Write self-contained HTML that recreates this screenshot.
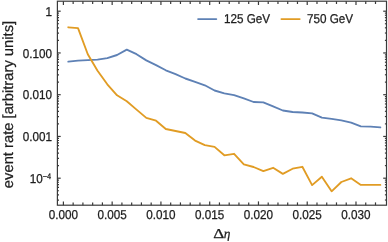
<!DOCTYPE html>
<html><head><meta charset="utf-8"><style>
html,body{margin:0;padding:0;background:#fff;}
svg{display:block;will-change:transform;}
text{font-family:"Liberation Sans",sans-serif;text-rendering:geometricPrecision;}
</style></head><body>
<svg width="388" height="242" viewBox="0 0 388 242">
<rect width="388" height="242" fill="#fff"/>
<g stroke="#3a3a3a" stroke-width="1.2" fill="none">
<rect x="57.4" y="1.2" width="329.10" height="204.00"/>
<line x1="63.40" y1="205.2" x2="63.40" y2="201.40"/>
<line x1="63.40" y1="1.2" x2="63.40" y2="5.00"/>
<line x1="73.15" y1="205.2" x2="73.15" y2="202.40"/>
<line x1="73.15" y1="1.2" x2="73.15" y2="4.00"/>
<line x1="82.91" y1="205.2" x2="82.91" y2="202.40"/>
<line x1="82.91" y1="1.2" x2="82.91" y2="4.00"/>
<line x1="92.66" y1="205.2" x2="92.66" y2="202.40"/>
<line x1="92.66" y1="1.2" x2="92.66" y2="4.00"/>
<line x1="102.41" y1="205.2" x2="102.41" y2="202.40"/>
<line x1="102.41" y1="1.2" x2="102.41" y2="4.00"/>
<line x1="112.16" y1="205.2" x2="112.16" y2="201.40"/>
<line x1="112.16" y1="1.2" x2="112.16" y2="5.00"/>
<line x1="121.92" y1="205.2" x2="121.92" y2="202.40"/>
<line x1="121.92" y1="1.2" x2="121.92" y2="4.00"/>
<line x1="131.67" y1="205.2" x2="131.67" y2="202.40"/>
<line x1="131.67" y1="1.2" x2="131.67" y2="4.00"/>
<line x1="141.42" y1="205.2" x2="141.42" y2="202.40"/>
<line x1="141.42" y1="1.2" x2="141.42" y2="4.00"/>
<line x1="151.18" y1="205.2" x2="151.18" y2="202.40"/>
<line x1="151.18" y1="1.2" x2="151.18" y2="4.00"/>
<line x1="160.93" y1="205.2" x2="160.93" y2="201.40"/>
<line x1="160.93" y1="1.2" x2="160.93" y2="5.00"/>
<line x1="170.68" y1="205.2" x2="170.68" y2="202.40"/>
<line x1="170.68" y1="1.2" x2="170.68" y2="4.00"/>
<line x1="180.44" y1="205.2" x2="180.44" y2="202.40"/>
<line x1="180.44" y1="1.2" x2="180.44" y2="4.00"/>
<line x1="190.19" y1="205.2" x2="190.19" y2="202.40"/>
<line x1="190.19" y1="1.2" x2="190.19" y2="4.00"/>
<line x1="199.94" y1="205.2" x2="199.94" y2="202.40"/>
<line x1="199.94" y1="1.2" x2="199.94" y2="4.00"/>
<line x1="209.70" y1="205.2" x2="209.70" y2="201.40"/>
<line x1="209.70" y1="1.2" x2="209.70" y2="5.00"/>
<line x1="219.45" y1="205.2" x2="219.45" y2="202.40"/>
<line x1="219.45" y1="1.2" x2="219.45" y2="4.00"/>
<line x1="229.20" y1="205.2" x2="229.20" y2="202.40"/>
<line x1="229.20" y1="1.2" x2="229.20" y2="4.00"/>
<line x1="238.95" y1="205.2" x2="238.95" y2="202.40"/>
<line x1="238.95" y1="1.2" x2="238.95" y2="4.00"/>
<line x1="248.71" y1="205.2" x2="248.71" y2="202.40"/>
<line x1="248.71" y1="1.2" x2="248.71" y2="4.00"/>
<line x1="258.46" y1="205.2" x2="258.46" y2="201.40"/>
<line x1="258.46" y1="1.2" x2="258.46" y2="5.00"/>
<line x1="268.21" y1="205.2" x2="268.21" y2="202.40"/>
<line x1="268.21" y1="1.2" x2="268.21" y2="4.00"/>
<line x1="277.97" y1="205.2" x2="277.97" y2="202.40"/>
<line x1="277.97" y1="1.2" x2="277.97" y2="4.00"/>
<line x1="287.72" y1="205.2" x2="287.72" y2="202.40"/>
<line x1="287.72" y1="1.2" x2="287.72" y2="4.00"/>
<line x1="297.47" y1="205.2" x2="297.47" y2="202.40"/>
<line x1="297.47" y1="1.2" x2="297.47" y2="4.00"/>
<line x1="307.22" y1="205.2" x2="307.22" y2="201.40"/>
<line x1="307.22" y1="1.2" x2="307.22" y2="5.00"/>
<line x1="316.98" y1="205.2" x2="316.98" y2="202.40"/>
<line x1="316.98" y1="1.2" x2="316.98" y2="4.00"/>
<line x1="326.73" y1="205.2" x2="326.73" y2="202.40"/>
<line x1="326.73" y1="1.2" x2="326.73" y2="4.00"/>
<line x1="336.48" y1="205.2" x2="336.48" y2="202.40"/>
<line x1="336.48" y1="1.2" x2="336.48" y2="4.00"/>
<line x1="346.24" y1="205.2" x2="346.24" y2="202.40"/>
<line x1="346.24" y1="1.2" x2="346.24" y2="4.00"/>
<line x1="355.99" y1="205.2" x2="355.99" y2="201.40"/>
<line x1="355.99" y1="1.2" x2="355.99" y2="5.00"/>
<line x1="365.74" y1="205.2" x2="365.74" y2="202.40"/>
<line x1="365.74" y1="1.2" x2="365.74" y2="4.00"/>
<line x1="375.50" y1="205.2" x2="375.50" y2="202.40"/>
<line x1="375.50" y1="1.2" x2="375.50" y2="4.00"/>
<line x1="57.4" y1="11.20" x2="60.70" y2="11.20"/>
<line x1="386.5" y1="11.20" x2="383.20" y2="11.20"/>
<line x1="57.4" y1="52.95" x2="60.70" y2="52.95"/>
<line x1="386.5" y1="52.95" x2="383.20" y2="52.95"/>
<line x1="57.4" y1="40.38" x2="59.00" y2="40.38"/>
<line x1="386.5" y1="40.38" x2="384.90" y2="40.38"/>
<line x1="57.4" y1="33.03" x2="59.00" y2="33.03"/>
<line x1="386.5" y1="33.03" x2="384.90" y2="33.03"/>
<line x1="57.4" y1="27.81" x2="59.00" y2="27.81"/>
<line x1="386.5" y1="27.81" x2="384.90" y2="27.81"/>
<line x1="57.4" y1="23.77" x2="59.00" y2="23.77"/>
<line x1="386.5" y1="23.77" x2="384.90" y2="23.77"/>
<line x1="57.4" y1="20.46" x2="59.00" y2="20.46"/>
<line x1="386.5" y1="20.46" x2="384.90" y2="20.46"/>
<line x1="57.4" y1="17.67" x2="59.00" y2="17.67"/>
<line x1="386.5" y1="17.67" x2="384.90" y2="17.67"/>
<line x1="57.4" y1="15.25" x2="59.00" y2="15.25"/>
<line x1="386.5" y1="15.25" x2="384.90" y2="15.25"/>
<line x1="57.4" y1="13.11" x2="59.00" y2="13.11"/>
<line x1="386.5" y1="13.11" x2="384.90" y2="13.11"/>
<line x1="57.4" y1="94.70" x2="60.70" y2="94.70"/>
<line x1="386.5" y1="94.70" x2="383.20" y2="94.70"/>
<line x1="57.4" y1="82.13" x2="59.00" y2="82.13"/>
<line x1="386.5" y1="82.13" x2="384.90" y2="82.13"/>
<line x1="57.4" y1="74.78" x2="59.00" y2="74.78"/>
<line x1="386.5" y1="74.78" x2="384.90" y2="74.78"/>
<line x1="57.4" y1="69.56" x2="59.00" y2="69.56"/>
<line x1="386.5" y1="69.56" x2="384.90" y2="69.56"/>
<line x1="57.4" y1="65.52" x2="59.00" y2="65.52"/>
<line x1="386.5" y1="65.52" x2="384.90" y2="65.52"/>
<line x1="57.4" y1="62.21" x2="59.00" y2="62.21"/>
<line x1="386.5" y1="62.21" x2="384.90" y2="62.21"/>
<line x1="57.4" y1="59.42" x2="59.00" y2="59.42"/>
<line x1="386.5" y1="59.42" x2="384.90" y2="59.42"/>
<line x1="57.4" y1="57.00" x2="59.00" y2="57.00"/>
<line x1="386.5" y1="57.00" x2="384.90" y2="57.00"/>
<line x1="57.4" y1="54.86" x2="59.00" y2="54.86"/>
<line x1="386.5" y1="54.86" x2="384.90" y2="54.86"/>
<line x1="57.4" y1="136.45" x2="60.70" y2="136.45"/>
<line x1="386.5" y1="136.45" x2="383.20" y2="136.45"/>
<line x1="57.4" y1="123.88" x2="59.00" y2="123.88"/>
<line x1="386.5" y1="123.88" x2="384.90" y2="123.88"/>
<line x1="57.4" y1="116.53" x2="59.00" y2="116.53"/>
<line x1="386.5" y1="116.53" x2="384.90" y2="116.53"/>
<line x1="57.4" y1="111.31" x2="59.00" y2="111.31"/>
<line x1="386.5" y1="111.31" x2="384.90" y2="111.31"/>
<line x1="57.4" y1="107.27" x2="59.00" y2="107.27"/>
<line x1="386.5" y1="107.27" x2="384.90" y2="107.27"/>
<line x1="57.4" y1="103.96" x2="59.00" y2="103.96"/>
<line x1="386.5" y1="103.96" x2="384.90" y2="103.96"/>
<line x1="57.4" y1="101.17" x2="59.00" y2="101.17"/>
<line x1="386.5" y1="101.17" x2="384.90" y2="101.17"/>
<line x1="57.4" y1="98.75" x2="59.00" y2="98.75"/>
<line x1="386.5" y1="98.75" x2="384.90" y2="98.75"/>
<line x1="57.4" y1="96.61" x2="59.00" y2="96.61"/>
<line x1="386.5" y1="96.61" x2="384.90" y2="96.61"/>
<line x1="57.4" y1="178.20" x2="60.70" y2="178.20"/>
<line x1="386.5" y1="178.20" x2="383.20" y2="178.20"/>
<line x1="57.4" y1="165.63" x2="59.00" y2="165.63"/>
<line x1="386.5" y1="165.63" x2="384.90" y2="165.63"/>
<line x1="57.4" y1="158.28" x2="59.00" y2="158.28"/>
<line x1="386.5" y1="158.28" x2="384.90" y2="158.28"/>
<line x1="57.4" y1="153.06" x2="59.00" y2="153.06"/>
<line x1="386.5" y1="153.06" x2="384.90" y2="153.06"/>
<line x1="57.4" y1="149.02" x2="59.00" y2="149.02"/>
<line x1="386.5" y1="149.02" x2="384.90" y2="149.02"/>
<line x1="57.4" y1="145.71" x2="59.00" y2="145.71"/>
<line x1="386.5" y1="145.71" x2="384.90" y2="145.71"/>
<line x1="57.4" y1="142.92" x2="59.00" y2="142.92"/>
<line x1="386.5" y1="142.92" x2="384.90" y2="142.92"/>
<line x1="57.4" y1="140.50" x2="59.00" y2="140.50"/>
<line x1="386.5" y1="140.50" x2="384.90" y2="140.50"/>
<line x1="57.4" y1="138.36" x2="59.00" y2="138.36"/>
<line x1="386.5" y1="138.36" x2="384.90" y2="138.36"/>
<line x1="57.4" y1="200.03" x2="59.00" y2="200.03"/>
<line x1="386.5" y1="200.03" x2="384.90" y2="200.03"/>
<line x1="57.4" y1="194.81" x2="59.00" y2="194.81"/>
<line x1="386.5" y1="194.81" x2="384.90" y2="194.81"/>
<line x1="57.4" y1="190.77" x2="59.00" y2="190.77"/>
<line x1="386.5" y1="190.77" x2="384.90" y2="190.77"/>
<line x1="57.4" y1="187.46" x2="59.00" y2="187.46"/>
<line x1="386.5" y1="187.46" x2="384.90" y2="187.46"/>
<line x1="57.4" y1="184.67" x2="59.00" y2="184.67"/>
<line x1="386.5" y1="184.67" x2="384.90" y2="184.67"/>
<line x1="57.4" y1="182.25" x2="59.00" y2="182.25"/>
<line x1="386.5" y1="182.25" x2="384.90" y2="182.25"/>
<line x1="57.4" y1="180.11" x2="59.00" y2="180.11"/>
<line x1="386.5" y1="180.11" x2="384.90" y2="180.11"/>
</g>
<g fill="none" stroke-width="1.85" stroke-linejoin="round" stroke-linecap="round">
<polyline stroke="#5E81B5" points="68.28,61.60 78.03,60.70 87.78,60.20 97.54,59.70 107.29,58.10 117.04,55.00 126.79,49.60 136.55,54.20 146.30,60.40 156.05,65.10 165.81,70.30 175.56,74.20 185.31,78.50 195.07,81.80 204.82,85.30 214.57,90.50 224.32,93.30 234.08,95.10 243.83,98.30 253.58,102.00 263.34,102.30 273.09,106.40 282.84,110.50 292.60,112.00 302.35,112.50 312.10,113.30 321.85,117.60 331.61,118.90 341.36,120.30 351.11,122.60 360.87,126.40 370.62,126.70 380.37,127.40"/>
<polyline stroke="#E19C24" points="68.28,27.30 78.03,28.10 87.78,54.30 97.54,70.70 107.29,84.30 117.04,95.30 126.79,101.30 136.55,109.60 146.30,117.90 156.05,120.70 165.81,129.00 175.56,131.00 185.31,133.00 195.07,140.60 204.82,145.20 214.57,146.90 224.32,155.30 234.08,153.80 243.83,164.30 253.58,167.00 263.34,171.10 273.09,167.80 282.84,173.90 292.60,168.70 302.35,166.80 312.10,185.10 321.85,176.70 331.61,191.30 341.36,182.00 351.11,178.30 360.87,184.90 370.62,184.90 380.37,184.90"/>
<line x1="198.1" y1="19.1" x2="216.3" y2="19.1" stroke="#5E81B5"/>
<line x1="281.4" y1="19.1" x2="299.7" y2="19.1" stroke="#E19C24"/>
</g>
<g fill="#1e1e1e" stroke="#1e1e1e" stroke-width="0.25" font-size="11.7">
<text transform="translate(63.40,218.9) scale(1,1.1)" text-anchor="middle">0.000</text>
<text transform="translate(112.16,218.9) scale(1,1.1)" text-anchor="middle">0.005</text>
<text transform="translate(160.93,218.9) scale(1,1.1)" text-anchor="middle">0.010</text>
<text transform="translate(209.70,218.9) scale(1,1.1)" text-anchor="middle">0.015</text>
<text transform="translate(258.46,218.9) scale(1,1.1)" text-anchor="middle">0.020</text>
<text transform="translate(307.22,218.9) scale(1,1.1)" text-anchor="middle">0.025</text>
<text transform="translate(355.99,218.9) scale(1,1.1)" text-anchor="middle">0.030</text>
<text transform="translate(51.9,15.90) scale(1,1.1)" text-anchor="end">1</text>
<text transform="translate(51.9,57.65) scale(1,1.1)" text-anchor="end">0.100</text>
<text transform="translate(51.9,99.40) scale(1,1.1)" text-anchor="end">0.010</text>
<text transform="translate(51.9,141.15) scale(1,1.1)" text-anchor="end">0.001</text>
<text transform="translate(51.1,182.90) scale(1,1.1)" text-anchor="end">10<tspan dy="-4.0" font-size="7.4">−4</tspan></text>
<text transform="translate(224,23.1) scale(1,1.1)">125 GeV</text>
<text transform="translate(307,23.1) scale(1,1.1)">750 GeV</text>
<text transform="translate(13,104.5) rotate(-90)" text-anchor="middle" style="font-size:14.75px">event rate [arbitrary units]</text>
<text transform="translate(213.3,237.9) scale(1.32,1.04)" style="font-family:'Liberation Serif',serif;font-size:13px">Δ</text>
<text x="223.7" y="237.9" style="font-family:'Liberation Serif',serif;font-size:13.4px;font-style:italic">η</text>
</g>
</svg>
</body></html>
